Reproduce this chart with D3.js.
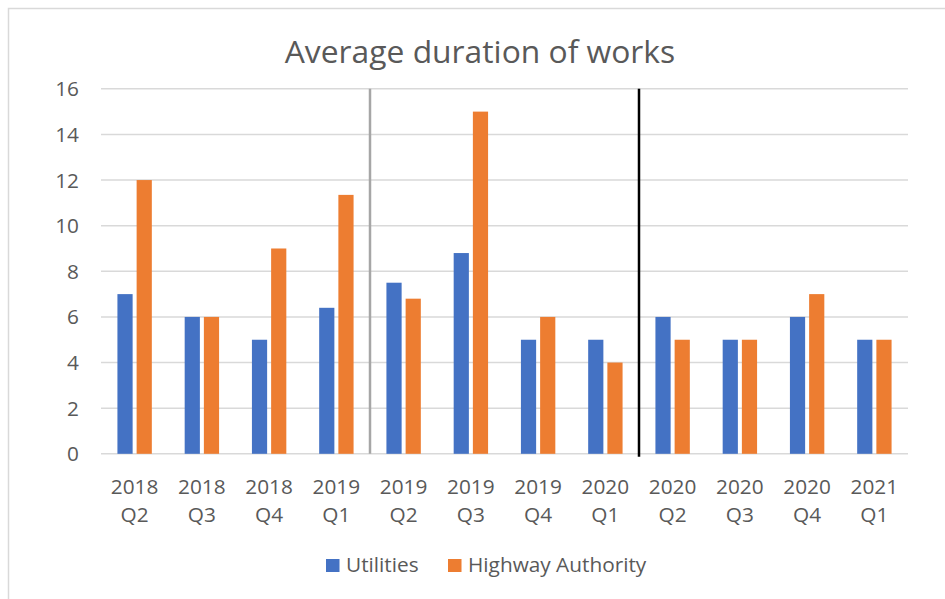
<!DOCTYPE html>
<html>
<head>
<meta charset="utf-8">
<script src="https://cdn.jsdelivr.net/npm/d3@7"></script>
<style>
  body { margin: 0; background: #fff; }
  text { font-family: "Open Sans", "Noto Sans", sans-serif; fill: #595959; }
</style>
</head>
<body>
<svg width="945" height="599"></svg>
<script>
// data
const years = ["2018", "2018", "2018", "2019", "2019", "2019", "2019", "2020", "2020", "2020", "2020", "2021"];
const quarters = ["Q2", "Q3", "Q4", "Q1", "Q2", "Q3", "Q4", "Q1", "Q2", "Q3", "Q4", "Q1"];
const utilities = [7, 6, 5, 6.4, 7.5, 8.8, 5, 5, 6, 5, 6, 5];
const highway = [12, 6, 9, 11.35, 6.8, 15, 6, 4, 5, 5, 7, 5];
const seriesNames = ["Utilities", "Highway Authority"];
const colors = ["#4472C4", "#ED7D31"];
const yTicks = [0, 2, 4, 6, 8, 10, 12, 14, 16];
// dividers sit after these category indexes
const dividers = [{ after: 3, color: "#a6a6a6", ext: 0 }, { after: 7, color: "#000", ext: 3 }];

const svg = d3.select("svg");
const width = +svg.attr("width");
const height = +svg.attr("height");
const plot = { left: 101, right: 908, top: 88.8, bottom: 453.8 };
const fs = "20.8px";

const cats = years.map((y, i) => i);

// chart frame (top + left edge only, the rest is cropped)
svg.append("path")
  .attr("d", `M8.5,${height} V8.5 H${width}`)
  .attr("fill", "none")
  .attr("stroke", "#d9d9d9")
  .attr("stroke-width", 1.5);

svg.append("text")
  .attr("x", 480)
  .attr("y", 63)
  .attr("text-anchor", "middle")
  .style("font-size", "31.8px")
  .text("Average duration of works");

const x = d3.scaleBand()
  .domain(cats)
  .range([plot.left, plot.right]);

const y = d3.scaleLinear()
  .domain([0, 16])
  .range([plot.bottom, plot.top]);

// gridlines
svg.append("g")
  .selectAll("line")
  .data(yTicks)
  .enter()
  .append("line")
    .attr("x1", plot.left)
    .attr("x2", plot.right)
    .attr("y1", (d) => y(d))
    .attr("y2", (d) => y(d))
    .attr("stroke", "#d9d9d9")
    .attr("stroke-width", 1.5);

// y labels
svg.append("g")
  .selectAll("text")
  .data(yTicks)
  .enter()
  .append("text")
    .attr("x", 79)
    .attr("y", (d) => y(d))
    .attr("dy", "0.36em")
    .attr("text-anchor", "end")
    .style("font-size", fs)
    .text((d) => d);

const barW = 15.2;
const gap = 4;
const bars = svg.append("g");

[utilities, highway].forEach((vals, s) => {
  bars.selectAll(null)
    .data(vals)
    .enter()
    .append("rect")
      .attr("x", (d, i) => x(i) + x.bandwidth() / 2 + (s === 0 ? -(barW + gap / 2) : gap / 2))
      .attr("y", (d) => y(d))
      .attr("width", barW)
      .attr("height", (d) => y(0) - y(d))
      .attr("fill", colors[s]);
});

// divider lines
svg.append("g")
  .selectAll("line")
  .data(dividers)
  .enter()
  .append("line")
    .attr("x1", (d) => x(d.after) + x.bandwidth())
    .attr("x2", (d) => x(d.after) + x.bandwidth())
    .attr("y1", y(16))
    .attr("y2", (d) => y(0) + d.ext)
    .attr("stroke", (d) => d.color)
    .attr("stroke-width", 2.5);

// x labels, two lines each
const xl = svg.append("g")
  .selectAll("text")
  .data(cats)
  .enter()
  .append("text")
    .attr("text-anchor", "middle")
    .style("font-size", fs);
xl.append("tspan")
  .attr("x", (d) => x(d) + x.bandwidth() / 2)
  .attr("y", 494)
  .text((d) => years[d]);
xl.append("tspan")
  .attr("x", (d) => x(d) + x.bandwidth() / 2)
  .attr("y", 522)
  .text((d) => quarters[d]);

// legend
const legendX = [326, 448];
const lg = svg.append("g")
  .selectAll("g")
  .data(seriesNames)
  .enter()
  .append("g")
    .attr("transform", (d, i) => `translate(${legendX[i]},559)`);
lg.append("rect")
  .attr("width", 13.5)
  .attr("height", 13)
  .attr("fill", (d, i) => colors[i]);
lg.append("text")
  .attr("x", 20)
  .attr("y", 13.3)
  .style("font-size", fs)
  .text((d) => d);
</script>
</body>
</html>
